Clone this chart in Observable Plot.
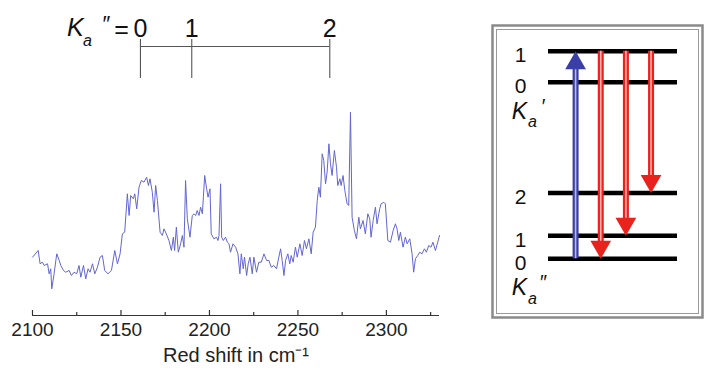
<!DOCTYPE html>
<html><head><meta charset="utf-8">
<script src="https://cdn.jsdelivr.net/npm/d3@7"></script>
<script src="https://cdn.jsdelivr.net/npm/@observablehq/plot@0.6"></script>
<style>
body{margin:0;background:#fff;}
#wrap{position:relative;width:705px;height:379px;overflow:hidden;font-family:"Liberation Sans",Arial,sans-serif;}
#wrap svg{position:absolute;left:0;top:0;background:transparent;overflow:visible;}
</style></head><body><div id="wrap"></div>
<script>
// ---- spectrum data ----
const shift = [2100.0,2103.2,2104.3,2105.6,2106.6,2108.5,2109.4,2110.3,2110.9,2112.2,2113.7,2115.1,2116.0,2117.5,2118.8,2120.7,2122.0,2123.5,2125.0,2126.3,2127.3,2128.8,2130.1,2131.4,2132.5,2133.9,2135.2,2136.7,2138.2,2139.5,2140.8,2142.7,2144.6,2146.5,2148.0,2149.5,2150.8,2152.1,2153.6,2154.6,2155.5,2157.0,2157.8,2158.9,2160.2,2161.5,2163.0,2164.5,2165.5,2166.4,2167.7,2168.7,2169.6,2170.6,2172.1,2173.4,2174.3,2175.6,2177.1,2178.5,2179.6,2180.3,2181.3,2182.4,2183.7,2184.7,2185.6,2186.5,2187.5,2189.0,2190.3,2191.3,2192.2,2193.1,2194.1,2195.0,2196.0,2197.3,2198.4,2199.2,2200.3,2201.0,2202.5,2204.0,2204.8,2205.4,2206.3,2206.9,2207.8,2209.1,2210.1,2211.0,2211.9,2213.3,2214.8,2216.1,2217.2,2218.0,2219.1,2219.8,2221.0,2221.9,2222.9,2224.2,2225.1,2226.6,2227.9,2229.3,2230.8,2232.3,2233.6,2234.9,2236.4,2237.9,2239.2,2240.2,2241.1,2242.1,2243.0,2244.3,2245.4,2246.2,2247.3,2248.6,2249.6,2251.1,2252.4,2253.7,2254.8,2256.2,2257.5,2258.6,2259.9,2260.9,2261.8,2262.7,2263.7,2264.6,2265.6,2266.5,2267.5,2268.4,2269.3,2270.6,2271.8,2272.5,2273.7,2274.4,2275.5,2276.5,2277.8,2278.7,2279.7,2280.6,2281.9,2283.1,2284.4,2285.3,2286.8,2288.1,2289.5,2290.6,2291.3,2292.5,2293.8,2294.7,2296.2,2297.0,2298.5,2299.4,2300.8,2302.3,2303.8,2305.1,2306.0,2307.0,2307.9,2309.4,2310.7,2311.7,2313.2,2314.5,2315.4,2316.4,2317.7,2318.8,2320.1,2321.5,2322.6,2323.9,2325.2,2326.3,2327.7,2329.0,2330.0];
const intensity = [43.3,50,36.7,38.3,35,36.7,26.7,31.7,11.7,26.7,46.7,40,35,30,28.3,30,25,28.3,26.7,35,23.3,35,21.7,31.7,28.3,36.7,26.7,33.3,43.3,45,30,26.7,30,50,36.7,46.7,66.7,68.3,106.7,85,105,101.7,106.7,91.7,113.3,120,118.3,123.3,115,121.7,108.3,88.3,115,100,68.3,65,71.7,66.7,60,50,63.3,50,73.3,48.3,56.7,65,53.3,120,81.7,63.3,85,86.7,85,90,85,93.3,86.7,125,111.7,103.3,111.7,66.7,61.7,63.3,60,65,116.7,63.3,60,63.3,58.3,56.7,48.3,56.7,53.3,46.7,26.7,46.7,31.7,43.3,25,36.7,43.3,26.7,43.3,28.3,38.3,38.3,46.7,40,40,33.3,35,31.7,43.3,51.7,40,25,40,46.7,36.7,45,38.3,53.3,43.3,56.7,45,60,51.7,61.7,46.7,68.3,73.3,100,113.3,103.3,146.7,140,116.7,128.3,156.7,136.7,125,150,133.3,115,121.7,115,125,110,96.7,95,188.3,83.3,70,61.7,83.3,71.7,80,66.7,86.7,81.7,63.3,80,93.3,76.7,91.7,96.7,98.3,96.7,60,58.3,70,76.7,71.7,60,68.3,53.3,63.3,56.7,61.7,46.7,28.3,41.7,45,48.3,46.7,51.7,48.3,55,53.3,58.3,50,58.3,65];
const majorTicks = [2100, 2150, 2200, 2250, 2300];
const minorTicks = [2125, 2175, 2225, 2275, 2325];
const xLabel = "Red shift in cm⁻¹";
// K_a'' assignment sticks
const stickShift = [2161, 2190, 2268];
const stickKa = ["0", "1", "2"];
// energy level diagram
const upperKa = ["1", "0"];
const upperE = [208, 177];
const lowerKa = ["2", "1", "0"];
const lowerE = [66, 23, 0];
const arrowFrom = ["0''", "1'", "1'", "1'"];
const arrowTo = ["1'", "0''", "1''", "2''"];
const arrowKind = ["absorption", "emission", "emission", "emission"];

// ---- build tables ----
const n = Math.min(shift.length, intensity.length);
const spectrum = d3.range(n).map(i => ({shift: shift[i], intensity: intensity[i]}));
const sticks = stickShift.map((s, i) => ({shift: s, ka: stickKa[i]}));
const levels = [
  ...upperKa.map((k, i) => ({ka: k, key: k + "'", E: upperE[i], group: "upper"})),
  ...lowerKa.map((k, i) => ({ka: k, key: k + "''", E: lowerE[i], group: "lower"}))
];
const levelE = Object.fromEntries(levels.map(d => [d.key, d.E]));
const arrows = arrowFrom.map((f, i) => {
  const a = levelE[f], b = levelE[arrowTo[i]];
  return {pos: 0.21 + i * 0.195, top: Math.max(a, b), bottom: Math.min(a, b), up: b > a, kind: arrowKind[i], toE: b};
});
const upArrows = arrows.filter(d => d.up);
const downArrows = arrows.filter(d => !d.up);
const groups = [
  {E: d3.min(upperE), prime: "′"},
  {E: d3.min(lowerE), prime: "″"}
];
const colorOf = k => k === "absorption" ? "#3a3ea8" : "#e8231d";

const yDomain = [-15, 300];
const stickTop = 261, stickBottom = 222, stickBar = 254;
const font = "Liberation Sans, Arial, sans-serif";

const p1 = Plot.plot({
  width: 705, height: 379,
  marginLeft: 32, marginRight: 266, marginTop: 0, marginBottom: 64,
  style: {fontFamily: font, background: "transparent", color: "#222"},
  x: {domain: [2100, 2330], label: null},
  y: {domain: yDomain, axis: null},
  marks: [
    Plot.ruleY([yDomain[0]], {stroke: "#333", strokeWidth: 1.2}),
    Plot.ruleX(majorTicks, {x: d => d, y1: yDomain[0], y2: yDomain[0] + 5, stroke: "#333", strokeWidth: 1.2}),
    Plot.ruleX(minorTicks, {x: d => d, y1: yDomain[0], y2: yDomain[0] + 3, stroke: "#333", strokeWidth: 1.2}),
    Plot.axisX({ticks: majorTicks, tickSize: 0, tickPadding: 7, fontSize: 19, fill: "#222", tickFormat: d => String(d), label: null}),
    Plot.text([xLabel], {frameAnchor: "bottom", text: d => d, dy: 46, fontSize: 20, fill: "#222"}),
    Plot.line(spectrum, {x: "shift", y: "intensity", stroke: "#6266cf", strokeWidth: 1}),
    Plot.ruleX(sticks, {x: "shift", y1: stickBottom, y2: stickTop, stroke: "#555", strokeWidth: 1.1}),
    Plot.ruleY([stickBar], {x1: d3.min(stickShift), x2: d3.max(stickShift), stroke: "#555", strokeWidth: 1.1}),
    Plot.text(sticks, {x: "shift", y: stickTop, text: "ka", dy: -11, fontSize: 25, fill: "#111"}),
    Plot.text([sticks[0]], {x: "shift", y: stickTop, text: () => "K", dx: -65, dy: -12, fontSize: 25, fontStyle: "italic", fill: "#111"}),
    Plot.text([sticks[0]], {x: "shift", y: stickTop, text: () => "a", dx: -53, dy: 1, fontSize: 16, fontStyle: "italic", fill: "#111"}),
    Plot.text([sticks[0]], {x: "shift", y: stickTop, text: () => "″", dx: -35, dy: -16, fontSize: 22, fontStyle: "italic", fill: "#111"}),
    Plot.text([sticks[0]], {x: "shift", y: stickTop, text: () => "=", dx: -19, dy: -10, fontSize: 25, fill: "#111"})
  ]
});

const p2 = Plot.plot({
  width: 705, height: 379,
  marginLeft: 492, marginRight: 3, marginTop: 25, marginBottom: 62,
  style: {fontFamily: font, background: "transparent", color: "#111"},
  x: {domain: [0, 1], range: [548, 677], axis: null},
  y: {domain: [0, 208], range: [258.3, 50.7], axis: null},
  marks: [
    Plot.frame({stroke: "#8a8a8a", strokeWidth: 2.5}),
    Plot.frame({stroke: "#9a9a9a", strokeWidth: 1, inset: 4}),
    Plot.ruleY(levels, {y: "E", x1: 0, x2: 1, stroke: "#000", strokeWidth: 4.5}),
    Plot.text(levels, {x: 0, y: "E", text: "ka", dx: -28, dy: 4, fontSize: 21, fill: "#111"}),
    Plot.text(groups, {x: 0, y: "E", text: () => "K", dx: -29, dy: 29, fontSize: 23, fontStyle: "italic", fill: "#111"}),
    Plot.text(groups, {x: 0, y: "E", text: () => "a", dx: -16, dy: 40, fontSize: 16, fontStyle: "italic", fill: "#111"}),
    Plot.text(groups, {x: 0, y: "E", text: "prime", dx: -6, dy: 24, fontSize: 20, fontStyle: "italic", fill: "#111"}),
    // shafts
    Plot.ruleX(upArrows, {x: "pos", y1: "top", y2: "bottom", insetTop: 12, stroke: d => colorOf(d.kind), strokeWidth: 6}),
    Plot.ruleX(downArrows, {x: "pos", y1: "top", y2: "bottom", insetBottom: 12, stroke: d => colorOf(d.kind), strokeWidth: 6}),
    Plot.ruleX(upArrows, {x: "pos", y1: "top", y2: "bottom", insetTop: 12, stroke: "#fff", strokeOpacity: 0.65, strokeWidth: 1.6}),
    Plot.ruleX(downArrows, {x: "pos", y1: "top", y2: "bottom", insetBottom: 12, stroke: "#fff", strokeOpacity: 0.65, strokeWidth: 1.6}),
    // heads
    Plot.dot(upArrows, {x: "pos", y: "toE", symbol: "triangle", r: 7.7, dy: 12, fill: d => colorOf(d.kind), stroke: "none"}),
    Plot.dot(downArrows, {x: "pos", y: "toE", symbol: "triangle", r: 7.7, dy: -12, rotate: 180, fill: d => colorOf(d.kind), stroke: "none"})
  ]
});

const wrap = document.getElementById("wrap");
wrap.appendChild(p1);
wrap.appendChild(p2);
</script>
</body></html>
